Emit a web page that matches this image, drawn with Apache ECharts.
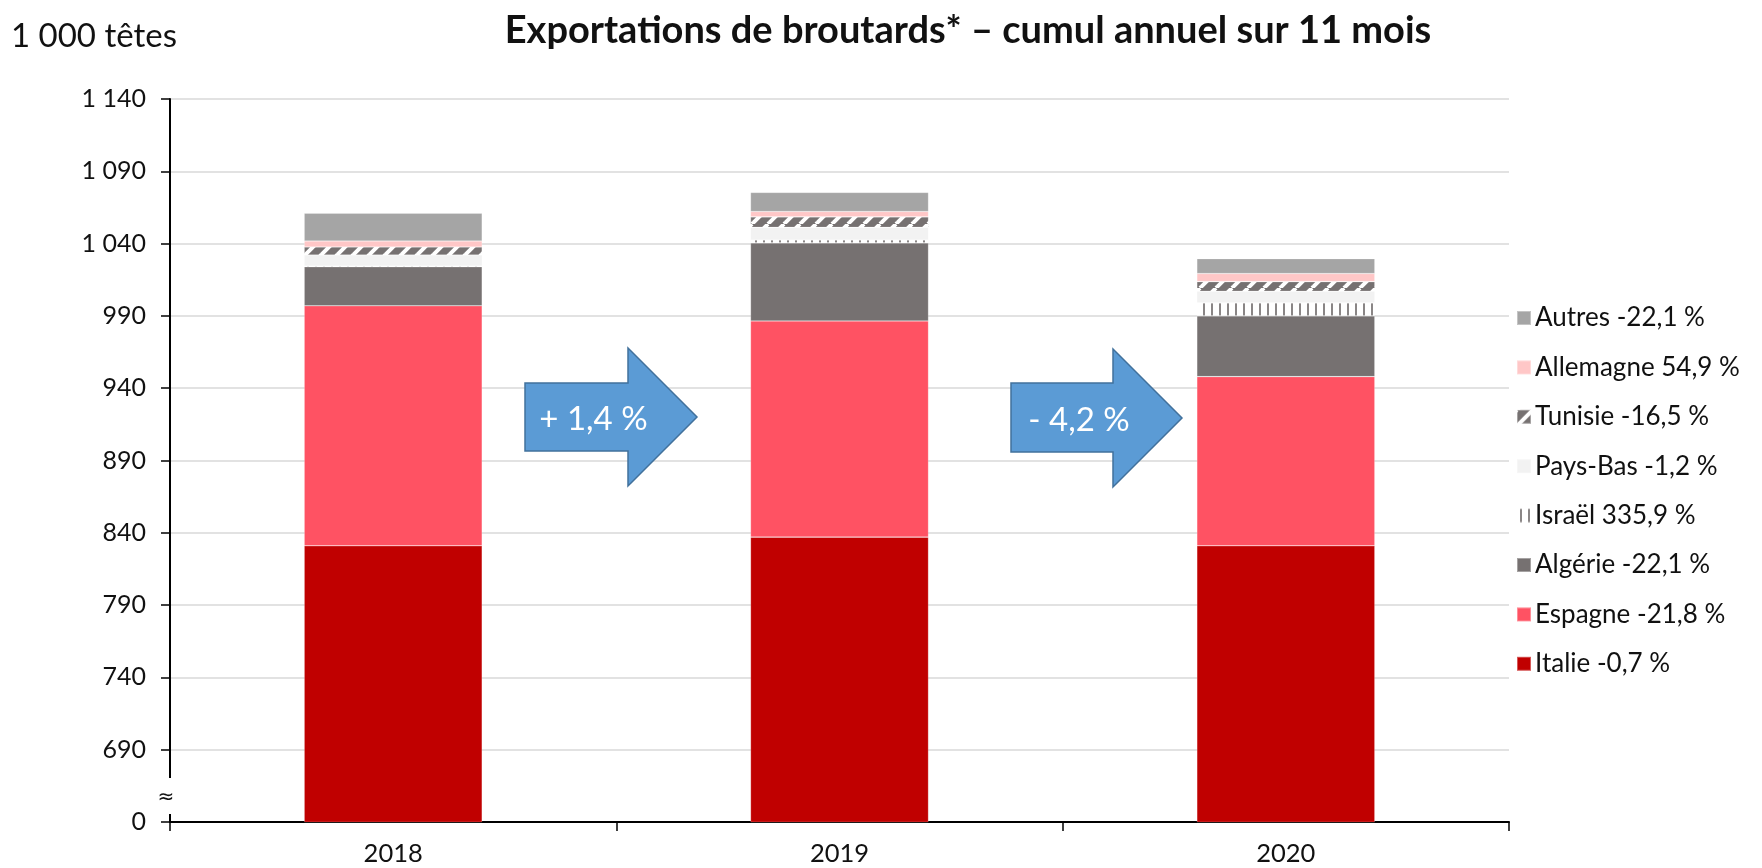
<!DOCTYPE html>
<html><head><meta charset="utf-8">
<script src="https://cdn.jsdelivr.net/npm/echarts@6/dist/echarts.min.js"></script>
<style>html,body{margin:0;padding:0;background:#fff}#c{width:1762px;height:868px}</style>
</head><body><div id="c"></div>
<script>
const categories = ['2018', '2019', '2020'];
const italie    = [831, 837, 831];
const espagne   = [166, 149.5, 117];
const algerie   = [27, 54, 42];
const israel    = [0.5, 2, 9];
const paysBas   = [7.6, 8.7, 8];
const tunisie   = [5.6, 7.3, 6.7];
const allemagne = [4.1, 3.7, 5.6];
const autres    = [19.2, 13.2, 10.3];
const seriesNames = ['Italie -0,7 %', 'Espagne -21,8 %', 'Algérie -22,1 %', 'Israël 335,9 %',
  'Pays-Bas -1,2 %', 'Tunisie -16,5 %', 'Allemagne 54,9 %', 'Autres -22,1 %'];
const yMin = 640, yMax = 1140, yStep = 50;
const arrowLabels = ['+ 1,4 %', '- 4,2 %'];
const titleText = 'Exportations de broutards* – cumul annuel sur 11 mois';
const unitText = '1 000 têtes';

const FONT = 'Lato';

function makeDiag() {
  const c = document.createElement('canvas'); c.width = 16; c.height = 16;
  const g = c.getContext('2d');
  g.fillStyle = '#767171'; g.fillRect(0, 0, 16, 16);
  g.strokeStyle = '#ffffff'; g.lineWidth = 4;
  for (let k = -16; k <= 32; k += 16) { g.beginPath(); g.moveTo(k, 16); g.lineTo(k + 16, 0); g.stroke(); }
  return c;
}
function makeVert() {
  const c = document.createElement('canvas'); c.width = 8; c.height = 8;
  const g = c.getContext('2d');
  g.fillStyle = '#ffffff'; g.fillRect(0, 0, 8, 8);
  g.fillStyle = '#8a8686'; g.fillRect(3, 0, 2, 8);
  return c;
}

const colors = ['#C00000', '#FF5263', '#767171', {image: makeVert(), repeat: 'repeat'},
  '#F2F2F2', {image: makeDiag(), repeat: 'repeat'}, '#FFC7C7', '#A5A5A5'];
const values = [italie, espagne, algerie, israel, paysBas, tunisie, allemagne, autres];

const series = seriesNames.map((n, i) => ({
  name: n, type: 'bar', stack: 'tot', barWidth: 178,
  data: values[i],
  itemStyle: {color: colors[i], borderColor: 'rgba(255,255,255,0.35)', borderWidth: 0.6},
  emphasis: {disabled: true}
}));

function fmt(v) {
  if (v === yMin) return '0';
  const s = String(v);
  return s.length > 3 ? s.slice(0, s.length - 3) + '\u00a0' + s.slice(-3) : s;
}

function arrow(x0, xh, xt, yTop, yBot, yHT, yHB, label) {
  const ym = (yHT + yHB) / 2;
  return [{
    type: 'polygon', z: 100,
    shape: {points: [[x0, yTop], [xh, yTop], [xh, yHT], [xt, ym], [xh, yHB], [xh, yBot], [x0, yBot]]},
    style: {fill: '#5B9BD5', stroke: '#41719C', lineWidth: 1.5}
  }, {
    type: 'text', z: 101, x: (x0 + xh) / 2 + 17, y: ym + 2,
    style: {text: label, fill: '#fff', font: '33px ' + FONT, align: 'center', verticalAlign: 'middle'}
  }];
}

const chart = echarts.init(document.getElementById('c'));
chart.setOption({
  animation: false,
  backgroundColor: '#fff',
  title: {text: titleText, left: 963, textAlign: 'center', top: 7,
    textStyle: {fontFamily: FONT, fontWeight: 'bold', fontSize: 38, color: '#111'}},
  grid: {left: 170, right: 253, top: 99, bottom: 46},
  legend: {
    orient: 'vertical', left: 1511, top: 298, itemWidth: 14, itemHeight: 14, itemGap: 19.4,
    icon: 'rect', selectedMode: false,
    data: seriesNames.slice().reverse(),
    textStyle: {fontFamily: FONT, fontSize: 26, color: '#111', lineHeight: 30, padding: [0, 0, 0, -1]}
  },
  xAxis: {
    type: 'category', data: categories,
    axisLine: {lineStyle: {color: '#000', width: 2}},
    axisTick: {show: true, length: 9, lineStyle: {color: '#000', width: 1.5}},
    axisLabel: {fontFamily: FONT, fontSize: 25.5, color: '#111', margin: 19}
  },
  yAxis: {
    type: 'value', min: yMin, max: yMax, interval: yStep,
    axisLine: {show: true, lineStyle: {color: '#000', width: 2}},
    axisTick: {show: true, length: 9, lineStyle: {color: '#000', width: 1.5}},
    axisLabel: {fontFamily: FONT, fontSize: 25, color: '#111', margin: 24, formatter: fmt},
    splitLine: {show: true, lineStyle: {color: '#D9D9D9', width: 1.5}}
  },
  graphic: [
    {type: 'text', left: 11, top: 20, style: {text: unitText, font: '33px ' + FONT, fill: '#111'}},
    {type: 'rect', z: 100, shape: {x: 164, y: 778, width: 12, height: 36}, style: {fill: '#fff'}},
    {type: 'text', z: 101, x: 166, y: 798, style: {text: '≈', font: '20px "DejaVu Sans"', fill: '#111', align: 'center', verticalAlign: 'middle'}},
    ...arrow(525, 628, 697, 383, 451, 348, 486, arrowLabels[0]),
    ...arrow(1011, 1113, 1182, 383, 452, 349, 487, arrowLabels[1])
  ],
  series: series
});
</script></body></html>
